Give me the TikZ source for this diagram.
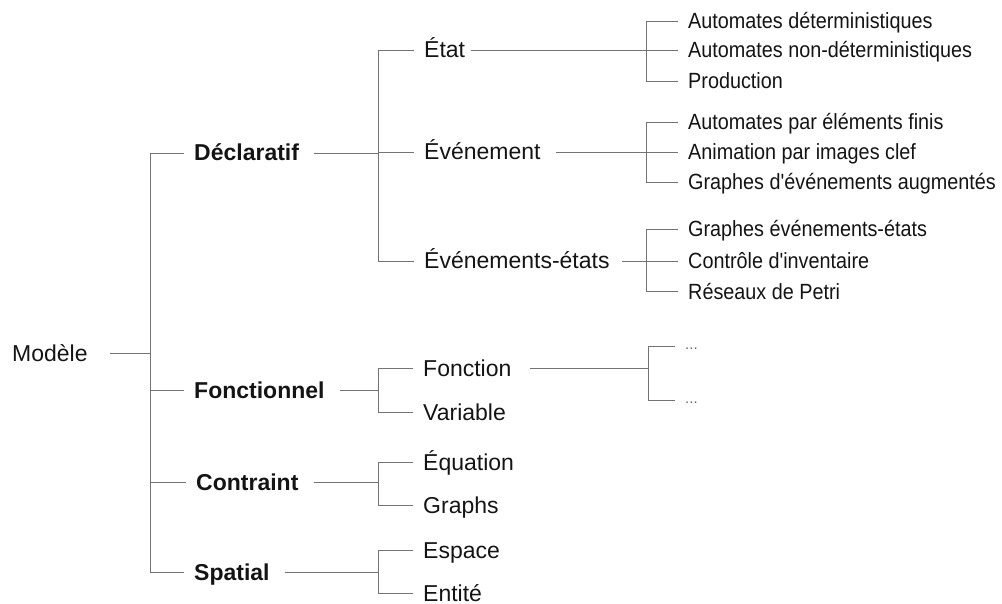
\documentclass[tikz,border=0pt]{standalone}
\usepackage{fontspec}
\setmainfont{Liberation Sans}
\newfontfamily\leaffont{Liberation Sans}[FakeStretch=0.9]
\begin{document}
\begin{tikzpicture}[x=1pt,y=-1pt,
  lbl/.style={anchor=west, inner sep=0pt, text height=20pt, text depth=4pt,
    text=black!92, font=\fontsize{23}{26}\selectfont},
  head/.style={lbl, font=\fontsize{23}{26}\selectfont\bfseries},
  leaf/.style={lbl, font=\fontsize{22}{26}\leaffont},
  dots/.style={anchor=west, inner sep=0pt, text height=12pt, text depth=0pt,
    text=black!60, font=\fontsize{15}{18}\selectfont},
  conn/.style={draw=black!55, line width=0.9pt},
  toparent/.style={conn, shorten >=10pt},
  fromparent/.style={conn, shorten <=15pt}]
\useasboundingbox (0,0) rectangle (1002,604);

% x positions of the vertical bars
\coordinate (x0) at (150,0);
\coordinate (x1) at (378,0);
\coordinate (x2) at (646,0);
\coordinate (x3) at (648,0);

% root and first level
\node[lbl]  (M) at (12,353)  {Modèle};
\node[head] (D) at (194,153) {Déclaratif};
\node[head] (F) at (194,390) {Fonctionnel};
\node[head] (C) at (196,482) {Contraint};
\node[head] (S) at (194,572) {Spatial};

% second level
\node[lbl] (Et)  at (424,50)  {État};
\node[lbl] (Ev)  at (424,152) {Événement};
\node[lbl] (EvE) at (424,261) {Événements-états};
\node[lbl] (Fn)  at (423,368) {Fonction};
\node[lbl] (Va)  at (423,412) {Variable};
\node[lbl] (Eq)  at (423,462) {Équation};
\node[lbl] (Gr)  at (423,505) {Graphs};
\node[lbl] (Es)  at (423,550) {Espace};
\node[lbl] (En)  at (423,593) {Entité};

% third level
\node[leaf] (a1) at (688,21)  {Automates déterministiques};
\node[leaf] (a2) at (688,50)  {Automates non-déterministiques};
\node[leaf] (a3) at (688,81)  {Production};
\node[leaf] (b1) at (688,122) {Automates par éléments finis};
\node[leaf] (b2) at (688,152) {Animation par images clef};
\node[leaf] (b3) at (688,182) {Graphes d'événements augmentés};
\node[leaf] (c1) at (688,229) {Graphes événements-états};
\node[leaf] (c2) at (688,261) {Contrôle d'inventaire};
\node[leaf] (c3) at (688,291) {Réseaux de Petri};
\node[dots] (d1) at (685,343) {...};
\node[dots] (d2) at (685,397) {...};

% root -> first level
\draw[conn, shorten <=22pt] (M.east) -- (M.east -| x0);
\draw[conn] (x0 |- D.west) -- (x0 |- S.west);
\foreach \n in {D,F,C,S} \draw[toparent] (x0 |- \n.west) -- (\n.west);

% Déclaratif
\draw[fromparent] (D.east) -- (D.east -| x1);
\draw[conn] (x1 |- Et.west) -- (x1 |- EvE.west);
\foreach \n in {Et,Ev,EvE} \draw[toparent] (x1 |- \n.west) -- (\n.west);

% Fonctionnel
\draw[fromparent] (F.east) -- (F.east -| x1);
\draw[conn] (x1 |- Fn.west) -- (x1 |- Va.west);
\foreach \n in {Fn,Va} \draw[toparent] (x1 |- \n.west) -- (\n.west);

% Contraint
\draw[fromparent] (C.east) -- (C.east -| x1);
\draw[conn] (x1 |- Eq.west) -- (x1 |- Gr.west);
\foreach \n in {Eq,Gr} \draw[toparent] (x1 |- \n.west) -- (\n.west);

% Spatial
\draw[fromparent] (S.east) -- (S.east -| x1);
\draw[conn] (x1 |- Es.west) -- (x1 |- En.west);
\foreach \n in {Es,En} \draw[toparent] (x1 |- \n.west) -- (\n.west);

% État
\draw[conn, shorten <=6pt] (Et.east) -- (Et.east -| x2);
\draw[conn] (x2 |- a1.west) -- (x2 |- a3.west);
\foreach \n in {a1,a2,a3} \draw[toparent] (x2 |- \n.west) -- (\n.west);

% Événement
\draw[fromparent] (Ev.east) -- (Ev.east -| x2);
\draw[conn] (x2 |- b1.west) -- (x2 |- b3.west);
\foreach \n in {b1,b2,b3} \draw[toparent] (x2 |- \n.west) -- (\n.west);

% Événements-états
\draw[conn, shorten <=12pt] (EvE.east) -- (EvE.east -| x2);
\draw[conn] (x2 |- c1.west) -- (x2 |- c3.west);
\foreach \n in {c1,c2,c3} \draw[toparent] (x2 |- \n.west) -- (\n.west);

% Fonction
\draw[conn, shorten <=18pt] (Fn.east) -- (Fn.east -| x3);
\draw[conn] ([yshift=-3pt]x3 |- d1.west) -- ([yshift=-3pt]x3 |- d2.west);
\foreach \n in {d1,d2} \draw[toparent] ([yshift=-3pt]x3 |- \n.west) -- ([yshift=-3pt]\n.west);
\end{tikzpicture}
\end{document}
